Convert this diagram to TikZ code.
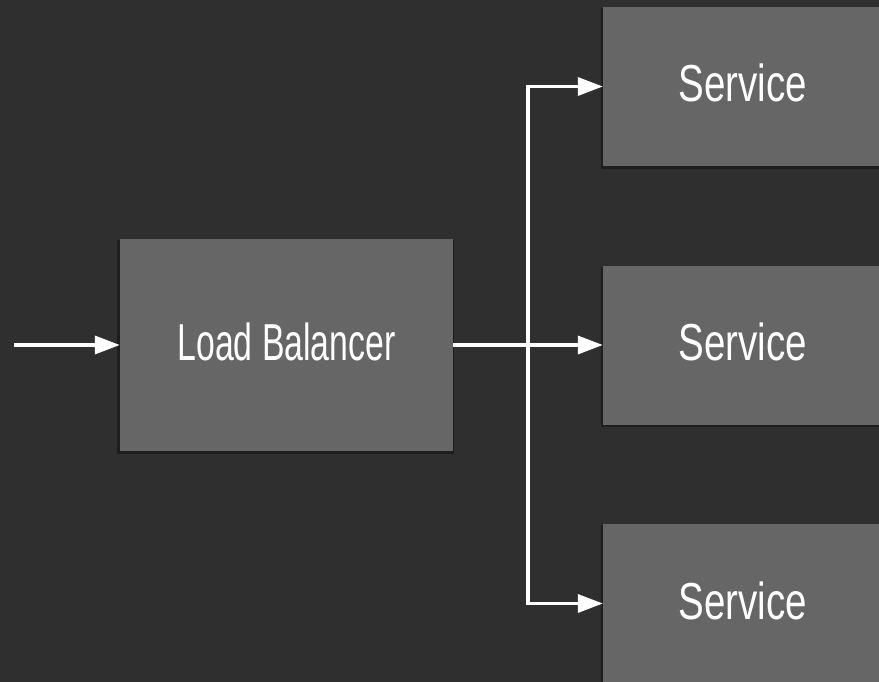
\documentclass[tikz,border=0pt]{standalone}
\usepackage{fontspec}
\setmainfont{Liberation Sans}[FakeStretch=0.68]
\newfontfamily\lbfont{Liberation Sans}[FakeStretch=0.65]
\newfontfamily\svcfont{Liberation Sans}[FakeStretch=0.74]
\usetikzlibrary{arrows.meta,shadows}
\definecolor{bg}{HTML}{2F2F2F}
\definecolor{boxc}{HTML}{666666}
\begin{document}
\begin{tikzpicture}[x=1pt,y=-1pt,
  box/.style={rectangle, fill=boxc, text=white, inner sep=0pt,
    text height=37pt, text depth=6pt,
    general shadow={fill=black, opacity=0.35, shadow xshift=-1pt, shadow yshift=-2pt, shadow scale=1.01}},
  lbbox/.style={box, minimum width=333pt, minimum height=212pt,
    font=\lbfont\fontsize{52}{52}\selectfont},
  svcbox/.style={box, minimum width=280pt, minimum height=159pt,
    font=\svcfont\fontsize{52}{52}\selectfont},
  link/.style={draw=white, line width=3.5pt, line join=miter},
  flow/.style={link, -{Triangle[length=25pt,width=18pt]}}]
\path[use as bounding box, clip] (0,0) rectangle (879,682);
\fill[bg] (0,0) rectangle (879,682);
\node[lbbox] (lb) at (286.5,345) {Load Balancer};
\node[svcbox] (s1) at (743,86.5) {Service};
\node[svcbox] (s2) at (743,345) {Service};
\node[svcbox] (s3) at (743,603.5) {Service};
\coordinate (in) at (14,345);
\coordinate (bus) at (528,345);
\draw[flow] (in) -- (lb.west);
\draw[link] (lb.east) -- (bus);
\draw[flow] (bus) -- (s2.west);
\draw[flow] (bus) |- (s1.west);
\draw[flow] (bus) |- (s3.west);
\end{tikzpicture}
\end{document}
